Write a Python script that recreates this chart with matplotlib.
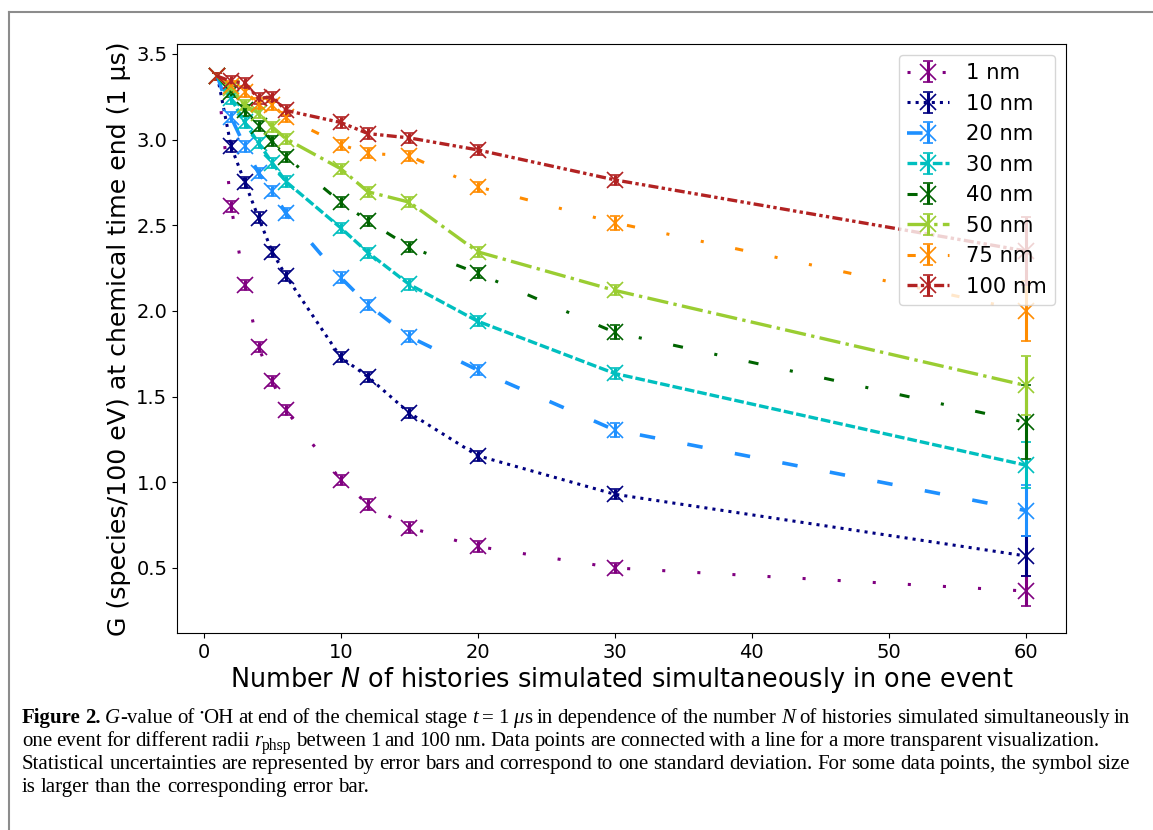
import matplotlib
matplotlib.use("Agg")
import matplotlib.pyplot as plt
from matplotlib.lines import Line2D
from matplotlib.transforms import IdentityTransform

# ---------------- data ----------------
N = [1, 2, 3, 4, 5, 6, 10, 12, 15, 20, 30, 60]
labels = ["1 nm", "10 nm", "20 nm", "30 nm", "40 nm", "50 nm", "75 nm", "100 nm"]

g_1nm   = [3.37, 2.61, 2.15, 1.79, 1.59, 1.42, 1.015, 0.87, 0.735, 0.625, 0.50, 0.365]
g_10nm  = [3.37, 2.96, 2.75, 2.545, 2.345, 2.205, 1.73, 1.615, 1.405, 1.155, 0.93, 0.57]
g_20nm  = [3.37, 3.13, 2.96, 2.805, 2.70, 2.57, 2.195, 2.035, 1.85, 1.655, 1.305, 0.835]
g_30nm  = [3.37, 3.24, 3.10, 2.98, 2.865, 2.755, 2.485, 2.34, 2.155, 1.94, 1.635, 1.10]
g_40nm  = [3.37, 3.28, 3.17, 3.08, 2.99, 2.90, 2.635, 2.525, 2.375, 2.22, 1.875, 1.35]
g_50nm  = [3.37, 3.30, 3.20, 3.155, 3.075, 3.005, 2.83, 2.695, 2.635, 2.345, 2.12, 1.565]
g_75nm  = [3.37, 3.31, 3.28, 3.21, 3.20, 3.13, 2.97, 2.92, 2.905, 2.725, 2.515, 2.00]
g_100nm = [3.37, 3.34, 3.33, 3.24, 3.25, 3.17, 3.10, 3.035, 3.01, 2.94, 2.765, 2.35]

e_1nm   = [0.02, 0.03, 0.03, 0.03, 0.03, 0.03, 0.03, 0.03, 0.03, 0.03, 0.03, 0.085]
e_10nm  = [0.02, 0.03, 0.03, 0.03, 0.03, 0.03, 0.03, 0.03, 0.03, 0.03, 0.03, 0.115]
e_20nm  = [0.02, 0.03, 0.03, 0.03, 0.03, 0.03, 0.03, 0.03, 0.03, 0.03, 0.04, 0.15]
e_30nm  = [0.02, 0.03, 0.03, 0.03, 0.03, 0.03, 0.03, 0.03, 0.03, 0.03, 0.03, 0.135]
e_40nm  = [0.02, 0.03, 0.03, 0.03, 0.03, 0.03, 0.03, 0.03, 0.03, 0.03, 0.04, 0.215]
e_50nm  = [0.02, 0.03, 0.03, 0.03, 0.03, 0.03, 0.03, 0.03, 0.03, 0.03, 0.03, 0.17]
e_75nm  = [0.02, 0.03, 0.03, 0.03, 0.03, 0.03, 0.03, 0.03, 0.03, 0.03, 0.04, 0.175]
e_100nm = [0.02, 0.03, 0.03, 0.03, 0.03, 0.03, 0.03, 0.03, 0.03, 0.03, 0.03, 0.20]

series = [g_1nm, g_10nm, g_20nm, g_30nm, g_40nm, g_50nm, g_75nm, g_100nm]
errors = [e_1nm, e_10nm, e_20nm, e_30nm, e_40nm, e_50nm, e_75nm, e_100nm]

# ---------------- styles ----------------
colors = ["purple", "navy", "dodgerblue", "c", "darkgreen", "yellowgreen",
          "darkorange", "firebrick"]
lstyles = [(0, (1, 10.5)),
           (0, (1, 1.65)),
           (0, (4.3, 9.1)),
           (0, (2.9, 0.9)),
           (0, (3.3, 10.5, 1, 10.5)),
           (0, (6.4, 1.6, 1, 1.6)),
           (0, (2.7, 10.5, 1, 10.5, 1, 10.5)),
           (0, (3.0, 1.0, 1.0, 1.0, 1.0, 1.0))]
lwidths = [2.2, 2.2, 2.6, 2.4, 2.2, 2.4, 2.2, 2.4]

W, H = 1153, 830
fig = plt.figure(figsize=(W / 100, H / 100), dpi=100)
ax = fig.add_axes([177 / W, 1 - 633 / H, (1066 - 177) / W, (633 - 44) / H])

for g, e, c, ls, lw, lab in zip(series, errors, colors, lstyles, lwidths, labels):
    ax.errorbar(N, g, yerr=e, marker="x", linestyle=ls, linewidth=lw, color=c,
                markersize=12, markeredgewidth=1.2, capsize=3.5,
                elinewidth=2.2, capthick=1.5, label=lab)

ax.set_xlim(-1.95, 62.95)
ax.set_ylim(0.12, 3.558)
ax.set_xticks([0, 10, 20, 30, 40, 50, 60])
ax.set_yticks([0.5, 1.0, 1.5, 2.0, 2.5, 3.0, 3.5])
ax.tick_params(labelsize=14)
ax.set_xlabel("Number $N$ of histories simulated simultaneously in one event",
              fontsize=18.4, labelpad=2)
ax.set_ylabel("G (species/100 eV) at chemical time end (1 µs)", fontsize=18.2,
              labelpad=4)
ax.legend(loc="upper right", fontsize=15.2)

# ---------------- page frame ----------------
frame_col = "#8c8c8c"
fig.add_artist(Line2D([9 / W, 1.0], [1 - 12 / H, 1 - 12 / H],
                      transform=fig.transFigure, color=frame_col, lw=1.5))
fig.add_artist(Line2D([9 / W, 9 / W], [1 - 12 / H, 0.0],
                      transform=fig.transFigure, color=frame_col, lw=1.5))

# ---------------- caption ----------------
cap_font = "Liberation Serif"
cap_size = 15.0
R = "n"
I = "i"
B = "b"

def run(text, st=R, scale=1.0, dy=0.0):
    return (text, st, scale, dy)

def words_of(text, st=R):
    return [[run(w, st)] for w in text.split()]

line1 = ([[run("Figure", B)], [run("2.", B)],
          [run("G", I), run("-value")], [run("of")],
          [run("•", R, 0.55, 8), run("OH")]]
         + words_of("at end of the chemical stage")
         + [[run("t", I)], [run("=")], [run("1")], [run("μ", I), run("s")]]
         + words_of("in dependence of the number")
         + [[run("N", I)]]
         + words_of("of histories simulated simultaneously in"))
line2 = (words_of("one event for different radii")
         + [[run("r", I), run("phsp", R, 0.75, -4)]]
         + words_of("between 1 and 100 nm. Data points are connected with a line "
                    "for a more transparent visualization."))
line3 = words_of("Statistical uncertainties are represented by error bars and "
                 "correspond to one standard deviation. For some data points, "
                 "the symbol size")
line4 = words_of("is larger than the corresponding error bar.")

cap_lines = [line1, line2, line3, line4]
cap_y = [718, 741, 764, 787]
cap_right = [1130, 1099, 1130, None]
cap_left = 22

renderer = fig.canvas.get_renderer()
ident = IdentityTransform()

def make_text(r):
    text, st, scale, dy = r
    kw = dict(fontfamily=cap_font, fontsize=cap_size * scale, color="black",
              transform=ident, va="baseline", ha="left")
    if st == B:
        kw["fontweight"] = "bold"
    if st == I:
        kw["fontstyle"] = "italic"
    return fig.text(0, 0, text, **kw)

space_w = 0.25 * cap_size * 100 / 72.0
for words, yline, right in zip(cap_lines, cap_y, cap_right):
    built = []
    widths = []
    for w in words:
        arts = [make_text(r) for r in w]
        ws = [a.get_window_extent(renderer).width for a in arts]
        built.append((arts, ws, w))
        widths.append(sum(ws))
    gap = space_w
    if right is not None and len(words) > 1:
        gap = (right - cap_left - sum(widths)) / (len(words) - 1)
    x = cap_left
    ybase = H - yline - 5
    for (arts, ws, w), tw in zip(built, widths):
        xx = x
        for a, wi, r in zip(arts, ws, w):
            a.set_position((xx, ybase + r[3]))
            xx += wi
        x += tw + gap

fig.savefig("out.png", dpi=100)
